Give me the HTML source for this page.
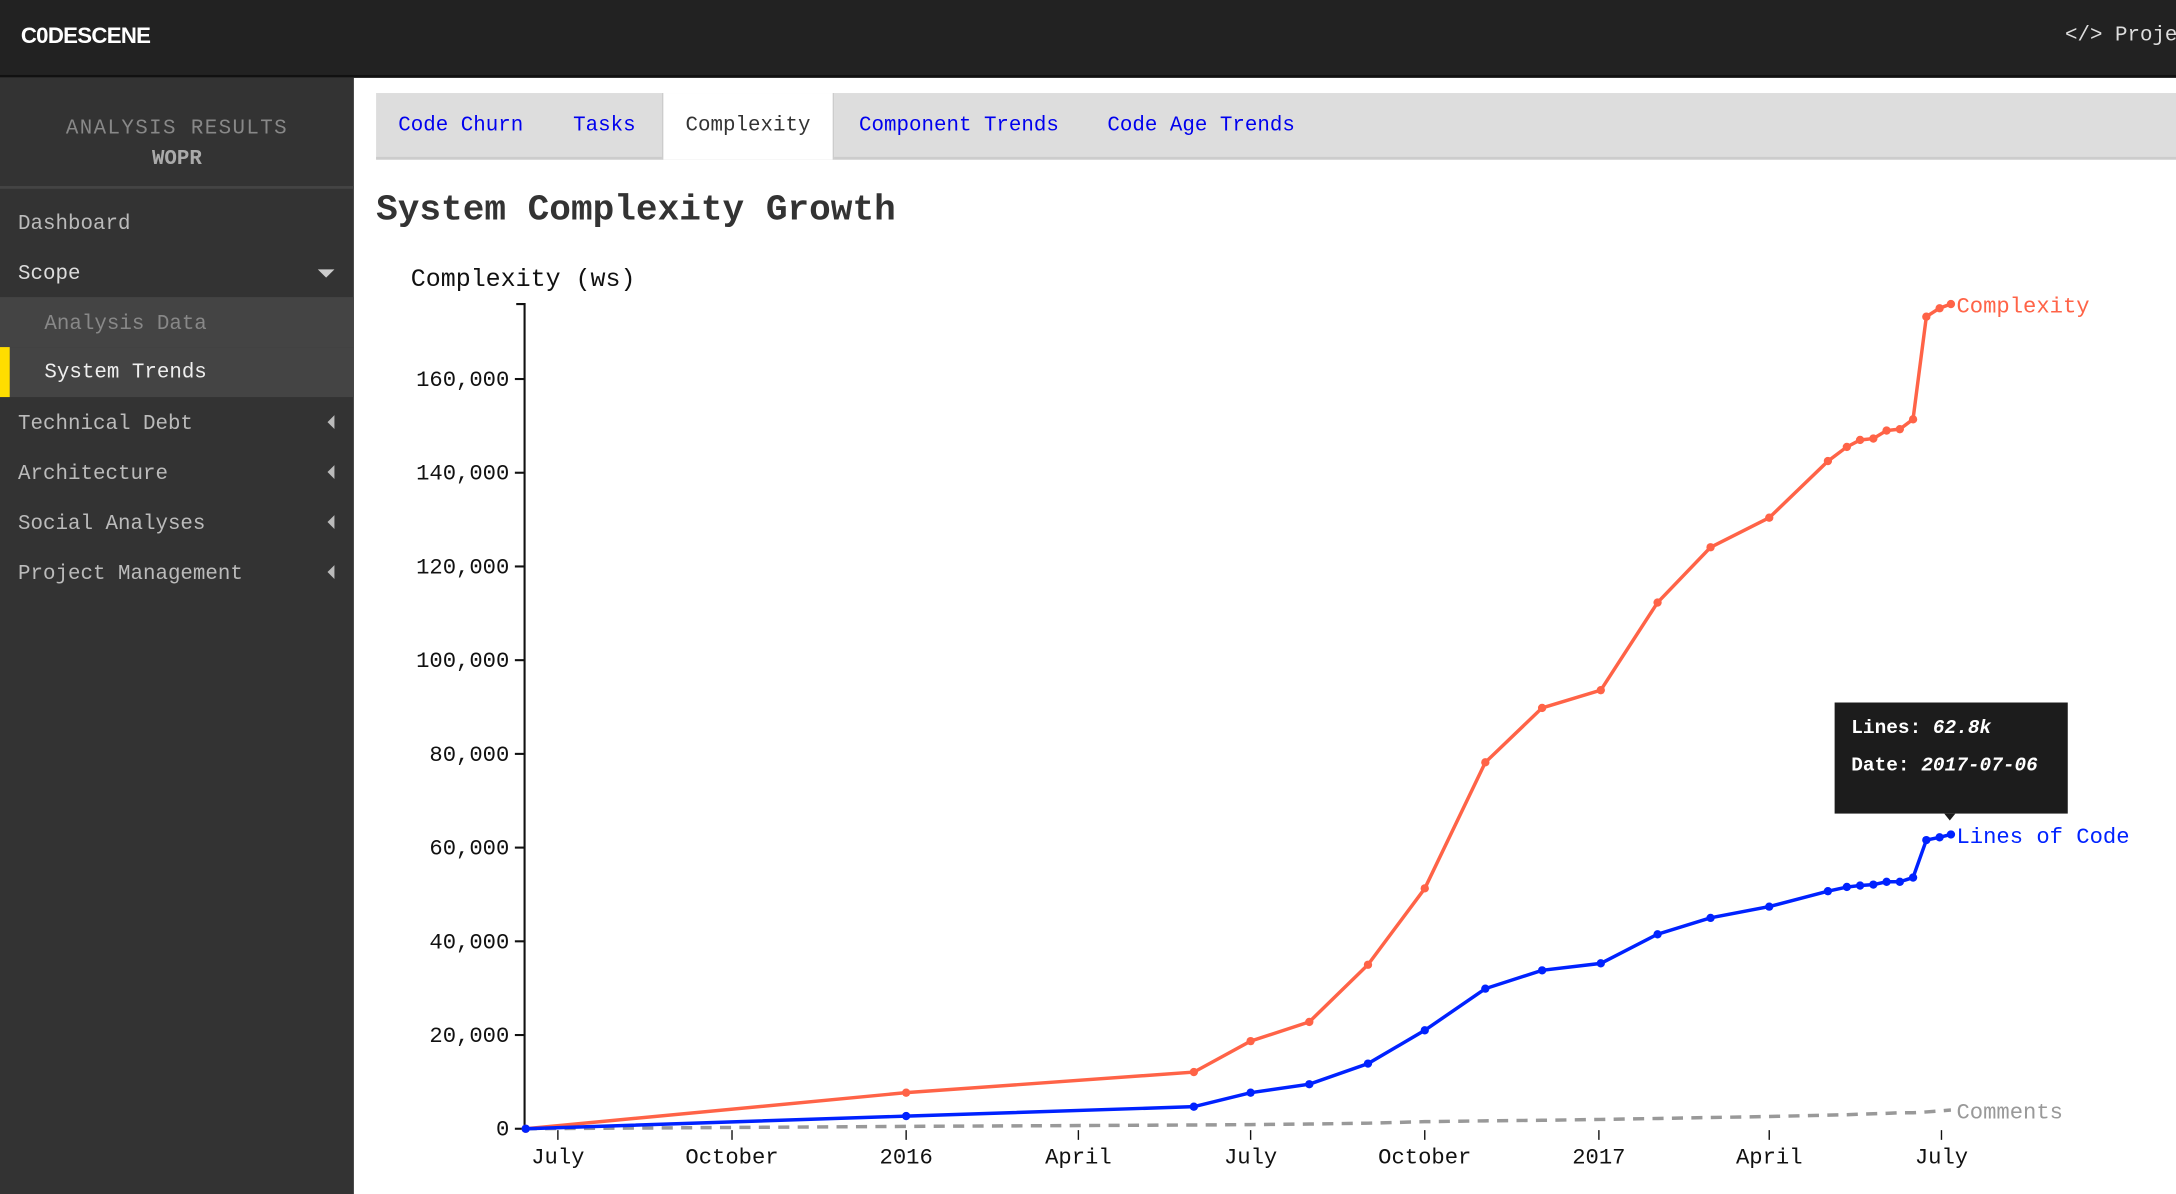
<!DOCTYPE html>
<html><head><meta charset="utf-8"><style>
html,body{margin:0;padding:0;width:2176px;height:1194px;overflow:hidden;background:#fff}
#wrap{position:absolute;left:0;top:0;width:1568px;height:860px;transform:scale(1.38776,1.38837);transform-origin:0 0;font-family:"Liberation Mono","DejaVu Sans Mono",monospace}
.top{position:absolute;left:0;top:0;width:1568px;height:54px;background:#222;border-bottom:2px solid #111;overflow:hidden}
.logo{position:absolute;left:15px;top:18px;color:#fff;font:bold 16px "Liberation Sans",sans-serif;letter-spacing:-0.5px}
.proj{position:absolute;left:1488px;top:17px;color:#ddd;font-size:15px;white-space:nowrap}
.side{position:absolute;left:0;top:56px;width:255px;height:804px;background:#333}
.hd{position:absolute;left:0;top:0;width:255px;height:78px;border-bottom:2px solid #444;text-align:center;color:#888;font-size:15px}
.item{position:absolute;left:0;width:255px;height:36px;line-height:36px;color:#bbb;font-size:15px;padding-left:13px;box-sizing:border-box}
.tri{position:absolute;right:14px;top:14px;width:0;height:0}
.tabs{position:absolute;left:271px;top:67px;width:1297px;height:46px;background:#ddd;border-bottom:2px solid #ccc}
.tab{position:absolute;top:1px;height:46px;line-height:46px;color:#0000ee;font-size:15px}
</style></head><body>
<div id="wrap">
<div class="top">
 <div class="logo">C0DESCENE</div>
 <div class="proj">&lt;/&gt; Projects</div>
</div>
<div class="side">
 <div class="hd"><div style="margin-top:28px;letter-spacing:1px">ANALYSIS RESULTS</div><div style="margin-top:5px;font-weight:bold;color:#aaa">WOPR</div></div>
 <div class="item" style="top:88px">Dashboard</div>
 <div class="item" style="top:124px;color:#ddd">Scope<div class="tri" style="border-left:6px solid transparent;border-right:6px solid transparent;border-top:6px solid #ccc;top:14px"></div></div>
 <div class="item" style="top:158px;background:#444;padding-left:32px;color:#888;height:36px;line-height:40px">Analysis Data</div>
 <div class="item" style="top:194px;background:#444;padding-left:32px;color:#eee;line-height:38px"><div style="position:absolute;left:0;top:0;width:7px;height:36px;background:#ffdd00"></div>System Trends</div>
 <div class="item" style="top:232px">Technical Debt<div class="tri" style="border-top:5px solid transparent;border-bottom:5px solid transparent;border-right:5px solid #bbb;top:11px"></div></div>
 <div class="item" style="top:268px">Architecture<div class="tri" style="border-top:5px solid transparent;border-bottom:5px solid transparent;border-right:5px solid #bbb;top:11px"></div></div>
 <div class="item" style="top:304px">Social Analyses<div class="tri" style="border-top:5px solid transparent;border-bottom:5px solid transparent;border-right:5px solid #bbb;top:11px"></div></div>
 <div class="item" style="top:340px">Project Management<div class="tri" style="border-top:5px solid transparent;border-bottom:5px solid transparent;border-right:5px solid #bbb;top:11px"></div></div>
</div>
<div class="tabs">
 <div class="tab" style="left:16px">Code Churn</div>
 <div class="tab" style="left:142px">Tasks</div>
 <div class="tab" style="left:206px;top:0;width:122px;background:#fff;color:#333;text-align:center;height:48px;line-height:48px;border-left:1px solid #ccc;border-right:1px solid #ccc">Complexity</div>
 <div class="tab" style="left:348px">Component Trends</div>
 <div class="tab" style="left:527px">Code Age Trends</div>
</div>
<div style="position:absolute;left:271px;top:136px;font-size:26px;font-weight:bold;color:#333">System Complexity Growth</div>
<svg id="chart" width="1568" height="860" style="position:absolute;left:0;top:0"></svg>
<div style="position:absolute;left:1322px;top:506px;width:168px;height:80px;background:#1c1c1c;color:#fff;font-size:14px;font-weight:bold">
 <div style="position:absolute;left:12px;top:11px">Lines: <i>62.8k</i></div>
 <div style="position:absolute;left:12px;top:38px">Date: <i>2017-07-06</i></div>
 <div style="position:absolute;left:79px;top:80px;border-left:4px solid transparent;border-right:4px solid transparent;border-top:5px solid #1c1c1c"></div>
</div>
</div>
<script>
const dates=["2015-06-14","2016-01-01","2016-06-01","2016-07-01","2016-08-01","2016-09-01","2016-10-01","2016-11-02","2016-12-02","2017-01-02","2017-02-01","2017-03-01","2017-04-01","2017-05-02","2017-05-12","2017-05-19","2017-05-26","2017-06-02","2017-06-09","2017-06-16","2017-06-23","2017-06-30","2017-07-06"];
const complexity=[0,7700,12100,18700,22800,35000,51300,78200,89800,93600,112300,124100,130400,142500,145500,147000,147300,149000,149300,151400,173300,175100,176000];
const linesOfCode=[0,2700,4700,7700,9500,13900,21000,29900,33800,35300,41500,45000,47400,50700,51600,51900,52100,52700,52700,53600,61600,62200,62800];
const comments=[0,500,800,900,1000,1200,1500,1700,1800,2000,2200,2400,2600,2900,3000,3100,3200,3300,3400,3400,3600,3800,4000];
const yTicks=[0,20000,40000,60000,80000,100000,120000,140000,160000];
const xTickDates=["2015-07-01","2015-10-01","2016-01-01","2016-04-01","2016-07-01","2016-10-01","2017-01-01","2017-04-01","2017-07-01"];
const xTickLabels=["July","October","2016","April","July","October","2017","April","July"];

const svg=document.getElementById('chart');const NS='http://www.w3.org/2000/svg';
const t0=Date.UTC(2015,6,1);
function ts(s){const p=s.split('-');return Date.UTC(+p[0],+p[1]-1,+p[2]);}
function X(s){return 402+(ts(s)-t0)/86400000*(997/731);}
function Y(v){return 813-v*(540/160000);}
function el(tag,attrs,txt){const e=document.createElementNS(NS,tag);for(const k in attrs)e.setAttribute(k,attrs[k]);if(txt!==undefined)e.textContent=txt;svg.appendChild(e);return e;}
const F='"Liberation Mono","DejaVu Sans Mono",monospace';
let e=el('text',{x:296,y:206,'font-size':18,'font-family':F,fill:'#111'},'Complexity (ws)');


e=el('path',{d:'M372,219H378V813',stroke:'#111','stroke-width':1.5,fill:'none'});


yTicks.forEach(v=>{
 el('line',{x1:371,x2:378,y1:Y(v),y2:Y(v),stroke:'#111','stroke-width':1.5});
 const t=el('text',{x:367,y:Y(v)+5,'font-size':16,'font-family':F,'text-anchor':'end',fill:'#111'},v.toLocaleString('en-US'));
 
 
});
xTickDates.forEach((d,i)=>{
 const x=X(d);
 el('line',{x1:x,x2:x,y1:814,y2:821,stroke:'#111','stroke-width':1});
 const t=el('text',{x:x,y:838,'font-size':16,'font-family':F,'text-anchor':'middle',fill:'#111'},xTickLabels[i]);
 
 
});
function series(vals,color,name,dash,dots,label){
 const pts=dates.map((d,i)=>X(d).toFixed(1)+','+Y(vals[i]).toFixed(1)).join(' ');
 const p=el('polyline',{points:pts,fill:'none',stroke:color,'stroke-width':2.5});
 if(dash)p.setAttribute('stroke-dasharray','8,6');
 
 
 if(dots)dates.forEach((d,i)=>{
  const c=el('circle',{cx:X(d),cy:Y(vals[i]),r:3,fill:color});
  
  
 });
 const n=vals.length-1;
 const t=el('text',{x:X(dates[n])+4,y:Y(vals[n])+6,'font-size':16,'font-family':F,fill:color},label);
 
 
}
series(comments,'#999','comments',true,false,'Comments');
series(complexity,'#ff6347','complexity',false,true,'Complexity');
series(linesOfCode,'#0022ff','lines-of-code',false,true,'Lines of Code');
</script>
</body></html>
